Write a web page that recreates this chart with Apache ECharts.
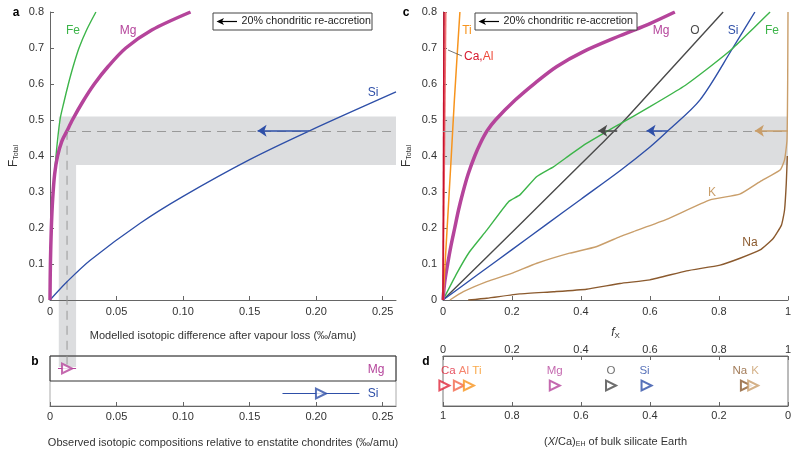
<!DOCTYPE html>
<html><head><meta charset="utf-8">
<script src="https://cdn.jsdelivr.net/npm/echarts@6/dist/echarts.min.js"></script>
<style>html,body{margin:0;padding:0;background:#fff}#c{width:800px;height:454px}</style>
</head><body><div id="c"></div>
<script>
// ---------- DATA ----------
// Panel a: F_Total vs modelled isotopic difference (‰/amu)
const aFe = [[0,0],[0.0004,0.1],[0.0012,0.2],[0.0025,0.3],[0.0045,0.4],[0.0075,0.5],[0.0105,0.55],[0.0138,0.6],[0.0175,0.65],[0.0218,0.7],[0.0275,0.75],[0.0345,0.8]];
const aMg = [[0,0],[0.0003,0.1],[0.001,0.2],[0.002,0.28],[0.0035,0.35],[0.0057,0.4],[0.0088,0.44],[0.0128,0.47],[0.0168,0.5],[0.0245,0.55],[0.0333,0.6],[0.044,0.65],[0.057,0.7],[0.0765,0.75],[0.1056,0.8]];
const aSi = [[0,0],[0.0126,0.05],[0.03,0.11],[0.068,0.214],[0.1,0.288],[0.15,0.39],[0.195,0.47],[0.26,0.578]];
const aTicksX = [0,0.05,0.10,0.15,0.20,0.25];
// Panel b: observed isotopic compositions (x, low, high)
const bMg = [0.0128, 0.006, 0.0196];
const bSi = [0.2036, 0.1747, 0.2325];
// Panel c: F_Total vs f_X
const cCa = [[0,0],[0.003,0.8]];
const cAl = [[0,0],[0.008,0.8]];
const cTi = [[0,0],[0.012,0.2],[0.024,0.4],[0.033,0.556],[0.049,0.8]];
const cMg = [[0,0],[0.005,0.05],[0.0135,0.1],[0.023,0.15],[0.034,0.2],[0.045,0.25],[0.058,0.3],[0.073,0.35],[0.092,0.4],[0.108,0.435],[0.128,0.47],[0.152,0.5],[0.21,0.556],[0.266,0.602],[0.329,0.648],[0.407,0.69],[0.513,0.734],[0.6,0.768],[0.672,0.8]];
const cO  = [[0,0],[0.223,0.21],[0.455,0.43],[0.513,0.486],[0.65,0.63],[0.812,0.8]];
const cSi = [[0,0],[0.1,0.07],[0.2,0.14],[0.3,0.21],[0.4,0.28],[0.513,0.359],[0.6,0.425],[0.652,0.47],[0.745,0.556],[0.84,0.7],[0.904,0.8]];
const cFe = [[0,0],[0.04,0.074],[0.077,0.134],[0.127,0.194],[0.19,0.273],[0.223,0.292],[0.272,0.343],[0.32,0.37],[0.368,0.403],[0.416,0.435],[0.474,0.468],[0.513,0.489],[0.6,0.537],[0.697,0.593],[0.774,0.648],[0.841,0.7],[0.9,0.755],[0.948,0.8]];
const cK  = [[0.02,0],[0.059,0.023],[0.127,0.051],[0.199,0.074],[0.272,0.102],[0.367,0.13],[0.444,0.148],[0.513,0.176],[0.552,0.19],[0.648,0.224],[0.774,0.278],[0.86,0.294],[0.919,0.329],[0.977,0.361],[0.99,0.389],[0.997,0.444],[0.999,0.6],[1,0.8]];
const cNa = [[0.073,0],[0.127,0.005],[0.223,0.017],[0.32,0.023],[0.416,0.03],[0.513,0.046],[0.6,0.056],[0.706,0.081],[0.803,0.097],[0.861,0.116],[0.919,0.139],[0.957,0.171],[0.981,0.208],[0.99,0.25],[0.995,0.324],[0.998,0.4]];
// Panel d: f_X of each element (top axis); bottom axis (X/Ca) = 1 - f_X
const dEl = ['Ca','Al','Ti','Mg','O','Si','Na','K'];
const dFx = [0.004,0.046,0.075,0.324,0.487,0.59,0.878,0.899];
// reference level / bands
const fRef = 0.47, bandLo = 0.375, bandHi = 0.51;
const bandX = [0.0066, 0.0196], refX = 0.0128;
// re-accretion arrows [from, to]
const arrA_Si = [0.195, 0.156];
const arrC_O = [0.505, 0.45], arrC_Si = [0.652, 0.59], arrC_K = [1.0, 0.904];

// ---------- STYLE ----------
const FONT = "'Liberation Sans', Arial, sans-serif";
const COL = {Fe:'#3db54a', Mg:'#b5449b', Si:'#2e4fa8', O:'#4a4a4a', Ca:'#e0263a', Al:'#f26649', Ti:'#f7941d', Na:'#8b5a2e', K:'#c99e6a'};
const AX = '#666';

function baseAxis(extra){
  return Object.assign({
    axisLine:{show:true, onZero:false, lineStyle:{color:AX, width:1}},
    axisTick:{show:true, inside:true, length:4, lineStyle:{color:AX}},
    axisLabel:{color:'#333', fontSize:11, fontFamily:FONT},
    splitLine:{show:false},
    nameTextStyle:{color:'#333', fontSize:11, fontFamily:FONT}
  }, extra);
}
const fmt2 = v => v===0 ? '0' : v.toFixed(2);
const fmt1 = v => (v===0||v===1) ? String(v) : v.toFixed(1);
const ftRich = {a:{fontSize:12, fontFamily:FONT, color:'#333'}, b:{fontSize:7, fontFamily:FONT, color:'#333', padding:[5,0,0,0]}};

const chart = echarts.init(document.getElementById('c'), null, {renderer:'canvas'});

function curve(name, data, g, color, width){
  return {type:'line', name, xAxisIndex:g, yAxisIndex:g, data, showSymbol:false, smooth:0.3,
    lineStyle:{color, width}, silent:true, z:3};
}
function arrowML(color, y, pair){
  return {symbol:['none','arrow'], symbolSize:9, silent:true, label:{show:false}, z:6,
    itemStyle:{color}, lineStyle:{color, width:1.5, type:'solid'},
    data:[[{coord:[pair[0],y]},{coord:[pair[1],y]}]]};
}
function dashedML(x0,x1,y){
  return {symbol:['none','none'], silent:true, label:{show:false},
    lineStyle:{color:'#999', width:1, type:[9,6]}, data:[[{coord:[x0,y]},{coord:[x1,y]}]]};
}

const option = {
  animation:false,
  textStyle:{fontFamily:FONT},
  grid:[
    {left:50, top:12, width:346, height:288},
    {left:50, top:356, width:346, height:50, show:true, borderColor:'#aaa', borderWidth:1},
    {left:443, top:12, width:345, height:288},
    {left:443, top:356, width:345, height:50, show:true, borderColor:'#777', borderWidth:1}
  ],
  xAxis:[
    baseAxis({gridIndex:0, type:'value', min:0, max:0.26,
      axisTick:{show:true, inside:true, length:4, lineStyle:{color:AX}, customValues:aTicksX},
      axisLabel:{color:'#333', fontSize:11, fontFamily:FONT, margin:6, formatter:fmt2, customValues:aTicksX},
      name:'Modelled isotopic difference after vapour loss (‰/amu)', nameLocation:'middle', nameGap:30}),
    baseAxis({gridIndex:1, type:'value', min:0, max:0.26,
      axisTick:{show:true, inside:true, length:4, lineStyle:{color:AX}, customValues:aTicksX},
      axisLabel:{color:'#333', fontSize:11, fontFamily:FONT, margin:5, formatter:fmt2, customValues:aTicksX},
      name:'Observed isotopic compositions relative to enstatite chondrites (‰/amu)', nameLocation:'middle', nameGap:31}),
    baseAxis({gridIndex:2, type:'value', min:0, max:1, interval:0.2,
      axisLabel:{color:'#333', fontSize:11, fontFamily:FONT, margin:6, formatter:fmt1},
      name:'{i|f}{s|X}', nameLocation:'middle', nameGap:26,
      nameTextStyle:{rich:{i:{fontSize:12, fontStyle:'italic', fontFamily:FONT, color:'#333'}, s:{fontSize:8, fontFamily:FONT, color:'#333', padding:[6,0,0,0]}}}}),
    baseAxis({gridIndex:3, type:'value', min:0, max:1, interval:0.2, position:'top',
      axisLabel:{color:'#333', fontSize:11, fontFamily:FONT, margin:1, formatter:fmt1}}),
    baseAxis({gridIndex:3, type:'value', min:0, max:1, interval:0.2, position:'bottom', inverse:true,
      axisLabel:{color:'#333', fontSize:11, fontFamily:FONT, margin:4, formatter:fmt1},
      name:'{p|(}{i|X}{p|/Ca)}{s|EH}{p| of bulk silicate Earth}', nameLocation:'middle', nameGap:30,
      nameTextStyle:{rich:{p:{fontSize:11, fontFamily:FONT, color:'#333'}, i:{fontSize:11, fontStyle:'italic', fontFamily:FONT, color:'#333'}, s:{fontSize:7, fontFamily:FONT, color:'#333', padding:[5,0,0,0]}}}})
  ],
  yAxis:[
    baseAxis({gridIndex:0, type:'value', min:0, max:0.8, interval:0.1,
      axisLabel:{color:'#333', fontSize:11, fontFamily:FONT, margin:6, formatter:v=>v===0?'0':v.toFixed(1)},
      name:'{a|F}{b|Total}', nameLocation:'middle', nameGap:30, nameRotate:90, nameTextStyle:{rich:ftRich}}),
    {gridIndex:1, type:'value', min:0, max:2, show:false},
    baseAxis({gridIndex:2, type:'value', min:0, max:0.8, interval:0.1,
      axisLabel:{color:'#333', fontSize:11, fontFamily:FONT, margin:6, formatter:v=>v===0?'0':v.toFixed(1)},
      name:'{a|F}{b|Total}', nameLocation:'middle', nameGap:30, nameRotate:90, nameTextStyle:{rich:ftRich}}),
    {gridIndex:3, type:'value', min:0, max:1, show:false}
  ],
  series:[
    // panel a
    Object.assign(curve('aSi', aSi, 0, COL.Si, 1.3), {markLine: arrowML(COL.Si, fRef, arrA_Si)}),
    Object.assign(curve('aFe', aFe, 0, COL.Fe, 1.4), {markLine: dashedML(refX, 0.26, fRef)}),
    curve('aMg', aMg, 0, COL.Mg, 3.5),
    // panel b
    {type:'line', xAxisIndex:1, yAxisIndex:1, data:[[bMg[1],1.5],[bMg[2],1.5]], showSymbol:false, lineStyle:{color:COL.Mg, width:1}, silent:true,
      markArea:{silent:true, itemStyle:{color:'rgba(0,0,0,0)', borderColor:'#333', borderWidth:1}, data:[[{coord:[0,1]},{coord:[0.26,2]}]]}},
    {type:'line', xAxisIndex:1, yAxisIndex:1, data:[[bSi[1],0.5],[bSi[2],0.5]], showSymbol:false, lineStyle:{color:COL.Si, width:1}, silent:true},
    {type:'scatter', xAxisIndex:1, yAxisIndex:1, data:[{value:[bMg[0],1.5], itemStyle:{color:COL.Mg}},{value:[bSi[0],0.5], itemStyle:{color:COL.Si}}],
      symbol:'emptyTriangle', symbolRotate:-90, symbolSize:10, itemStyle:{borderWidth:1.5}, silent:true, z:5},
    // panel c
    Object.assign(curve('cK', cK, 2, COL.K, 1.4), {smooth:0.15, markLine: arrowML(COL.K, fRef, arrC_K)}),
    Object.assign(curve('cNa', cNa, 2, COL.Na, 1.4), {smooth:0.15}),
    Object.assign(curve('cO', cO, 2, COL.O, 1.4), {markLine: arrowML(COL.O, fRef, arrC_O)}),
    Object.assign(curve('cSi', cSi, 2, COL.Si, 1.4), {markLine: arrowML(COL.Si, fRef, arrC_Si)}),
    Object.assign(curve('cFe', cFe, 2, COL.Fe, 1.4), {smooth:0.15, markLine: dashedML(0, 1, fRef)}),
    curve('cMg', cMg, 2, COL.Mg, 3.5),
    curve('cTi', cTi, 2, COL.Ti, 1.5),
    curve('cAl', cAl, 2, '#f07070', 1.6),
    curve('cCa', cCa, 2, '#c8102e', 1.6),
    // panel d
    {type:'scatter', xAxisIndex:3, yAxisIndex:3, silent:true, z:5,
      symbol:'emptyTriangle', symbolRotate:-90, symbolSize:10, itemStyle:{borderWidth:1.5},
      data: dEl.map((e,i)=>({name:e, value:[dFx[i],0.41], itemStyle:{color:COL[e]},
        label:{show:true, position:'top', distance:3, formatter:e, color:COL[e], fontSize:11.5, fontFamily:FONT,
          offset: ({Ca:[4,0],Al:[5,0],Ti:[8,0],Na:[-6,0],K:[2,0],Si:[-2,0]})[e] || [0,0]}}))}
  ]
};
chart.setOption(option);

// ---------- computed decorations ----------
const P = (g, v) => chart.convertToPixel({gridIndex:g}, v);
const g = [];
// grey bands
let h0 = P(0,[bandX[0], bandHi]), h1 = P(0,[0.26, bandLo]);
g.push({type:'rect', z:-1, shape:{x:h0[0], y:h0[1], width:h1[0]-h0[0], height:h1[1]-h0[1]}, style:{fill:'#dcdddf'}});
let v1 = P(0,[bandX[1], bandHi]), vb = P(1,[bandX[1], 1.56]);
g.push({type:'rect', z:-1, shape:{x:h0[0], y:h1[1], width:v1[0]-h0[0], height:vb[1]-h1[1]}, style:{fill:'#dcdddf'}});
let c0 = P(2,[0, bandHi]), c1 = P(2,[1, bandLo]);
g.push({type:'rect', z:-1, shape:{x:c0[0], y:c0[1], width:c1[0]-c0[0], height:c1[1]-c0[1]}, style:{fill:'#dcdddf'}});
// vertical dashed line a -> b
let d0 = P(0,[refX, fRef]), d1 = P(1,[refX, 1.66]);
g.push({type:'line', z:1, shape:{x1:d0[0], y1:d0[1], x2:d1[0], y2:d1[1]}, style:{stroke:'#999', lineWidth:1, lineDash:[9,6]}});

// legend boxes
function legendBox(x, y, w){
  const cy = y + 8.5;
  return [
    {type:'rect', z:10, shape:{x, y, width:w, height:17}, style:{fill:'#fff', stroke:'#444', lineWidth:1}},
    {type:'line', z:11, shape:{x1:x+7, y1:cy, x2:x+24, y2:cy}, style:{stroke:'#000', lineWidth:1.2}},
    {type:'polygon', z:11, shape:{points:[[x+3.5,cy],[x+11,cy-3.5],[x+9,cy],[x+11,cy+3.5]]}, style:{fill:'#000'}},
    {type:'text', z:11, x:x+28.5, y:cy, style:{text:'20% chondritic re-accretion', fontSize:10.7, fontFamily:FONT, fill:'#222', verticalAlign:'middle', align:'left'}}
  ];
}
g.push(...legendBox(213, 13, 159));
g.push(...legendBox(475, 13, 162));

// text labels
function T(text, x, y, color, opts){
  return Object.assign({type:'text', z:12, x, y, style:Object.assign({text, fill:color, fontSize:12, fontFamily:FONT, align:'center', verticalAlign:'middle'}, opts||{})});
}
g.push(T('a', 16, 13, '#000', {fontWeight:'bold', fontSize:12}));
g.push(T('b', 35, 362, '#000', {fontWeight:'bold', fontSize:12}));
g.push(T('c', 406, 13, '#000', {fontWeight:'bold', fontSize:12}));
g.push(T('d', 426, 362, '#000', {fontWeight:'bold', fontSize:12}));
g.push(T('Fe', 73, 31, COL.Fe));
g.push(T('Mg', 128, 31, COL.Mg));
g.push(T('Si', 373, 93, COL.Si));
g.push(T('Mg', 376, 370, COL.Mg));
g.push(T('Si', 373, 394, COL.Si));
g.push(T('Ti', 467, 31, COL.Ti));
g.push(T('Mg', 661, 31, COL.Mg));
g.push(T('O', 695, 31, COL.O));
g.push(T('Si', 733, 31, COL.Si));
g.push(T('Fe', 772, 31, COL.Fe));
g.push(T('K', 712, 193, COL.K));
g.push(T('Na', 750, 243, COL.Na));
g.push({type:'text', z:12, x:464, y:57, style:{text:'{r|Ca,}{o|Al}', fontSize:12, fontFamily:FONT, verticalAlign:'middle', align:'left',
  rich:{r:{fill:'#d7192f', fontSize:12, fontFamily:FONT}, o:{fill:'#ee4a3a', fontSize:12, fontFamily:FONT}}}});
g.push({type:'line', z:12, shape:{x1:448, y1:50, x2:462, y2:56}, style:{stroke:'#555', lineWidth:0.8}});

chart.setOption({graphic:g});
</script>
</body></html>
